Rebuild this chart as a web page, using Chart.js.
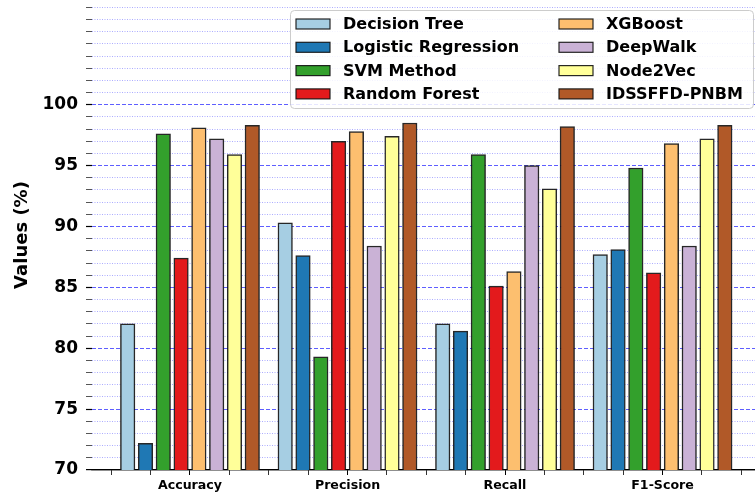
<!DOCTYPE html>
<html>
<head>
<meta charset="utf-8">
<script src="https://cdn.jsdelivr.net/npm/chart.js@4.4.1/dist/chart.umd.min.js"></script>
<style>
  html, body { margin: 0; padding: 0; background: #ffffff; }
  #wrap { width: 755px; height: 495px; }
</style>
</head>
<body>
<div id="wrap"><canvas id="chart" width="755" height="495"></canvas></div>
<script>
// Evaluation metrics (x-axis categories)
const metrics = ['Accuracy', 'Precision', 'Recall', 'F1-Score'];

// Scores (%) per model, in metric order
const decisionTree       = [82.0, 90.3, 82.0, 87.7];
const logisticRegression = [72.2, 87.6, 81.4, 88.1];
const svmMethod          = [97.6, 79.3, 95.9, 94.8];
const randomForest       = [87.4, 97.0, 85.1, 86.2];
const xgBoost            = [98.1, 97.8, 86.3, 96.8];
const deepWalk           = [97.2, 88.4, 95.0, 88.4];
const node2Vec           = [95.9, 97.4, 93.1, 97.2];
const idssffdPnbm        = [98.3, 98.5, 98.2, 98.3];

// Y tick labels shown on the value axis
const yTickLabels = [70, 75, 80, 85, 90, 95, 100];

const models = [
  { name: 'Decision Tree',       values: decisionTree,       color: '#a6cee3' },
  { name: 'Logistic Regression', values: logisticRegression, color: '#1f78b4' },
  { name: 'SVM Method',          values: svmMethod,          color: '#33a02c' },
  { name: 'Random Forest',       values: randomForest,       color: '#e31a1c' },
  { name: 'XGBoost',             values: xgBoost,            color: '#fdbf6f' },
  { name: 'DeepWalk',            values: deepWalk,           color: '#cab2d6' },
  { name: 'Node2Vec',            values: node2Vec,           color: '#ffff99' },
  { name: 'IDSSFFD-PNBM',        values: idssffdPnbm,        color: '#b15928' }
];

// Bars of a group sit side by side around the category position
const barStep = 0.113;
const nModels = models.length;

const datasets = models.map((m, k) => ({
  label: m.name,
  data: m.values.map((v, i) => ({ x: i + (k - (nModels - 1) / 2) * barStep, y: v })),
  backgroundColor: m.color,
  borderColor: 'rgba(15,15,15,0.9)',
  borderWidth: 1.5,
  borderSkipped: false,
  barThickness: 14.5,
  grouped: false
}));

const FONT = "'DejaVu Sans', 'Liberation Sans', sans-serif";

const yMin = 70;
const isMajorY = v => yTickLabels.includes(v);
const isBaseY = v => v === yMin;

// Framed two-column legend drawn on top of the plot
const boxedLegend = {
  id: 'boxedLegend',
  afterDraw(chart) {
    const ctx = chart.ctx;
    const ds = chart.data.datasets;
    const left = 290.5, top = 10.5, w = 463, h = 98, r = 4;
    ctx.save();
    ctx.beginPath();
    ctx.moveTo(left + r, top);
    ctx.lineTo(left + w - r, top);
    ctx.quadraticCurveTo(left + w, top, left + w, top + r);
    ctx.lineTo(left + w, top + h - r);
    ctx.quadraticCurveTo(left + w, top + h, left + w - r, top + h);
    ctx.lineTo(left + r, top + h);
    ctx.quadraticCurveTo(left, top + h, left, top + h - r);
    ctx.lineTo(left, top + r);
    ctx.quadraticCurveTo(left, top, left + r, top);
    ctx.closePath();
    ctx.fillStyle = 'rgba(255,255,255,0.85)';
    ctx.fill();
    ctx.strokeStyle = '#cccccc';
    ctx.lineWidth = 1;
    ctx.stroke();

    const perCol = 4;
    const colX = [296, 559];
    const rowY0 = 24, rowStep = 23.3;
    ctx.font = 'bold 16px ' + FONT;
    ctx.textBaseline = 'middle';
    ctx.textAlign = 'left';
    ds.forEach((d, i) => {
      const col = Math.floor(i / perCol), row = i % perCol;
      const x = colX[col], yc = rowY0 + row * rowStep;
      ctx.fillStyle = d.backgroundColor;
      ctx.fillRect(x, yc - 5, 34, 10);
      ctx.strokeStyle = 'rgba(15,15,15,0.9)';
      ctx.lineWidth = 1.2;
      ctx.strokeRect(x, yc - 5, 34, 10);
      ctx.fillStyle = '#000000';
      ctx.fillText(d.label, x + 47, yc + 1);
    });
    ctx.restore();
  }
};

new Chart(document.getElementById('chart'), {
  type: 'bar',
  data: { datasets },
  plugins: [boxedLegend],
  options: {
    responsive: false,
    animation: false,
    layout: { padding: { left: 0, right: 0, top: 0, bottom: 0 } },
    plugins: {
      legend: { display: false },
      tooltip: { enabled: false }
    },
    scales: {
      x: {
        type: 'linear',
        offset: false,
        min: -0.622,
        max: 3.587,
        afterBuildTicks: scale => {
          const t = [];
          for (let v = -0.5; v <= metrics.length - 0.5 + 1e-9; v += 0.25) t.push({ value: Math.round(v * 100) / 100 });
          scale.ticks = t;
        },
        afterFit: scale => { scale.height = 25; scale.paddingLeft = 0; scale.paddingRight = 0; },
        ticks: {
          autoSkip: false,
          maxRotation: 0,
          padding: 3.5,
          color: '#000000',
          font: { family: FONT, size: 12.6, weight: 'bold' },
          callback: v => (Number.isInteger(v) && metrics[v] !== undefined) ? metrics[v] : ''
        },
        grid: {
          offset: false,
          drawOnChartArea: false,
          drawTicks: true,
          tickLength: 5,
          tickColor: ctx => (ctx.tick && Number.isInteger(ctx.tick.value)) ? '#000000' : '#333333',
          tickWidth: 1
        },
        border: { display: true, color: '#000000', width: 1.2, dash: [] }
      },
      y: {
        min: yMin,
        max: 108.6,
        afterBuildTicks: scale => {
          const t = [];
          for (let v = yMin; v <= 108; v += 1) t.push({ value: v });
          scale.ticks = t;
        },
        afterFit: scale => { scale.width = 92; scale.paddingTop = 0; scale.paddingBottom = 0; },
        ticks: {
          autoSkip: false,
          padding: 8,
          color: '#000000',
          font: { family: FONT, size: 17, weight: 'bold' },
          callback: v => isMajorY(v) ? String(v) : ''
        },
        grid: {
          drawTicks: true,
          tickLength: 6,
          color: ctx => {
            const v = ctx.tick ? ctx.tick.value : null;
            if (isBaseY(v)) return '#000000';
            return isMajorY(v) ? 'rgba(40,40,255,0.75)' : 'rgba(70,70,255,0.45)';
          },
          lineWidth: ctx => (ctx.tick && isBaseY(ctx.tick.value)) ? 1.2 : 1,
          tickColor: ctx => (ctx.tick && isMajorY(ctx.tick.value)) ? '#000000' : '#555555',
          tickWidth: ctx => (ctx.tick && isMajorY(ctx.tick.value)) ? 1.2 : 1,
          tickBorderDash: [],
          tickBorderDashOffset: 0
        },
        border: {
          display: false,
          dash: ctx => {
            const v = ctx.tick ? ctx.tick.value : null;
            if (v === null || isBaseY(v)) return [];
            return isMajorY(v) ? [4, 2] : [1, 1.5];
          }
        },
        title: {
          display: true,
          text: 'Values (%)',
          color: '#000000',
          font: { family: FONT, size: 18, weight: 'bold' },
          padding: { top: 12, bottom: 0 }
        }
      }
    }
  }
});
</script>
</body>
</html>
